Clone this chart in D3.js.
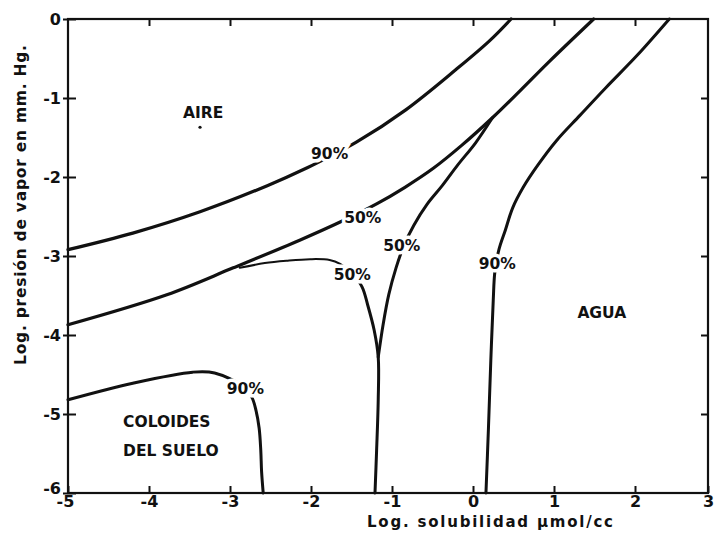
<!DOCTYPE html>
<html>
<head>
<meta charset="utf-8">
<title>Solubilidad</title>
<script src="https://d3js.org/d3.v7.min.js"></script>
<style>
  body { margin: 0; background: #fff; }
  text { font-family: "DejaVu Sans", sans-serif; font-weight: bold; fill: #111; }
</style>
</head>
<body>
<script>
// axis ticks
const xTicks = [-5, -4, -3, -2, -1, 0, 1, 2, 3];
const yTicks = [0, -1, -2, -3, -4, -5, -6];

// curves, [log solubilidad, log presion]
const aire90 = [[-5, -2.92], [-4.20, -2.71], [-3.37, -2.44], [-2.54, -2.11], [-2.04, -1.88], [-1.77, -1.74],
  [-1.44, -1.56], [-0.83, -1.15], [-0.21, -0.64], [0.20, -0.28], [0.47, 0]];
const aire50 = [[-5, -3.87], [-3.78, -3.49], [-2.96, -3.15], [-2.14, -2.80], [-1.64, -2.57], [-1.19, -2.34],
  [-0.84, -2.13], [-0.49, -1.89], [-0.14, -1.60], [0.24, -1.25], [0.58, -0.91], [0.95, -0.53], [1.49, 0]];
const coloide50Thin = [[-2.88, -3.15], [-2.57, -3.09], [-2.30, -3.06], [-2.01, -3.04], [-1.77, -3.05], [-1.64, -3.10], [-1.49, -3.22]];
const coloide50 = [[-1.49, -3.22], [-1.37, -3.39], [-1.30, -3.62], [-1.22, -3.94], [-1.17, -4.28], [-1.17, -4.82], [-1.19, -5.46], [-1.21, -6]];
const agua50 = [[-1.17, -4.28], [-1.11, -3.87], [-1.04, -3.49], [-0.95, -3.15], [-0.85, -2.86], [-0.73, -2.61],
  [-0.57, -2.35], [-0.38, -2.11], [-0.19, -1.85], [0.03, -1.57], [0.24, -1.25]];
const agua90 = [[0.16, -6], [0.19, -5.20], [0.22, -4.32], [0.25, -3.56], [0.27, -3.20], [0.32, -2.92], [0.40, -2.67],
  [0.49, -2.39], [0.62, -2.13], [0.80, -1.85], [1.03, -1.54], [1.32, -1.22], [1.64, -0.87], [2.03, -0.46], [2.47, 0]];
const coloide90 = [[-5, -4.82], [-4.20, -4.61], [-3.46, -4.47], [-3.19, -4.48], [-2.84, -4.65], [-2.73, -4.79],
  [-2.68, -4.95], [-2.64, -5.18], [-2.62, -5.46], [-2.61, -5.73], [-2.59, -6]];

// labels
const pctLabels = [
  { t: "90%", x: -1.77, y: -1.70 },
  { t: "50%", x: -1.36, y: -2.51 },
  { t: "50%", x: -1.49, y: -3.23 },
  { t: "50%", x: -0.88, y: -2.87 },
  { t: "90%", x: 0.30, y: -3.10 },
  { t: "90%", x: -2.81, y: -4.67 }
];
const regionLabels = [
  { t: "AIRE", x: -3.33, y: -1.18 },
  { t: "COLOIDES", x: -3.78, y: -5.10 },
  { t: "DEL SUELO", x: -3.73, y: -5.46 },
  { t: "AGUA", x: 1.59, y: -3.72 }
];

const W = 716, H = 544;
const svg = d3.select("body").append("svg").attr("width", W).attr("height", H);

// scan is a bit squeezed at the right end, so two segments
const x = d3.scaleLinear().domain([-5, 2, 3]).range([68, 635, 708]);
const y = d3.scaleLinear().domain([-6, 0]).range([493, 19]);

const line = d3.line().x(d => x(d[0])).y(d => y(d[1])).curve(d3.curveCatmullRom.alpha(0.5));

const curves = [
  [aire90, 3.2], [aire50, 3.2], [coloide50Thin, 2], [coloide50, 3], [agua50, 3], [agua90, 3], [coloide90, 3]
];
svg.append("g").selectAll("path")
  .data(curves)
  .join("path")
  .attr("d", d => line(d[0]))
  .attr("fill", "none")
  .attr("stroke", "#111")
  .attr("stroke-width", d => d[1])
  .attr("stroke-linecap", "round");

// dot under AIRE
svg.append("circle").attr("cx", x(-3.37)).attr("cy", y(-1.37)).attr("r", 1.6).attr("fill", "#111");

// frame
svg.append("rect")
  .attr("x", x(-5)).attr("y", y(0))
  .attr("width", x(3) - x(-5)).attr("height", y(-6) - y(0))
  .attr("fill", "none").attr("stroke", "#111").attr("stroke-width", 2.2);

// axes
const fmt = d => d < 0 ? "-" + Math.abs(d) : String(d);
const gx = svg.append("g").attr("transform", `translate(0,${y(-6)})`)
  .call(d3.axisBottom(x).tickValues(xTicks).tickSize(-7).tickPadding(3).tickFormat(fmt));
const gxTop = svg.append("g").attr("transform", `translate(0,${y(0)})`)
  .call(d3.axisTop(x).tickValues(xTicks.slice(1, -1)).tickSize(-7).tickFormat(""));
const gy = svg.append("g").attr("transform", `translate(${x(-5)},0)`)
  .call(d3.axisLeft(y).tickValues(yTicks).tickSize(5).tickPadding(2).tickFormat(fmt));
const gyR = svg.append("g").attr("transform", `translate(${x(3)},0)`)
  .call(d3.axisRight(y).tickValues(yTicks.slice(1, -1)).tickSize(-7).tickFormat(""));

// left ticks cross into the plot a little
gy.selectAll(".tick line").attr("x1", 8).attr("x2", -5);
gx.select(".tick:first-of-type text").attr("dx", "-3");

[gx, gxTop, gy, gyR].forEach(g => {
  g.select(".domain").remove();
  g.selectAll(".tick line").attr("stroke", "#111").attr("stroke-width", 2);
  g.selectAll("text").attr("font-size", 16).attr("font-family", "DejaVu Sans").attr("font-weight", "bold").attr("fill", "#111");
});
gy.selectAll("text").attr("dy", "0.36em");
// -6 sits just above the -5 of the x axis
gy.selectAll(".tick").filter(d => d === -6).select("text").attr("dy", "0.05em");

// contour labels with white halo to break the lines
svg.append("g").selectAll("text")
  .data(pctLabels)
  .join("text")
  .attr("x", d => x(d.x)).attr("y", d => y(d.y))
  .attr("text-anchor", "middle").attr("dy", "0.36em")
  .attr("font-size", 15.5)
  .attr("stroke", "#fff").attr("stroke-width", 7).attr("paint-order", "stroke")
  .text(d => d.t);

svg.append("g").selectAll("text")
  .data(regionLabels)
  .join("text")
  .attr("x", d => x(d.x)).attr("y", d => y(d.y))
  .attr("text-anchor", "middle").attr("dy", "0.36em")
  .attr("font-size", 15.5)
  .text(d => d.t);

// axis titles
svg.append("text")
  .attr("x", 490).attr("y", 522).attr("dy", "0.36em")
  .attr("text-anchor", "middle").attr("font-size", 15)
  .attr("textLength", 246).attr("lengthAdjust", "spacing")
  .text("Log. solubilidad  µmol/cc");

svg.append("text")
  .attr("transform", "translate(20,205) rotate(-90)")
  .attr("dy", "0.36em")
  .attr("text-anchor", "middle").attr("font-size", 15.5)
  .attr("textLength", 320).attr("lengthAdjust", "spacing")
  .text("Log. presión de vapor en mm. Hg.");
</script>
</body>
</html>
